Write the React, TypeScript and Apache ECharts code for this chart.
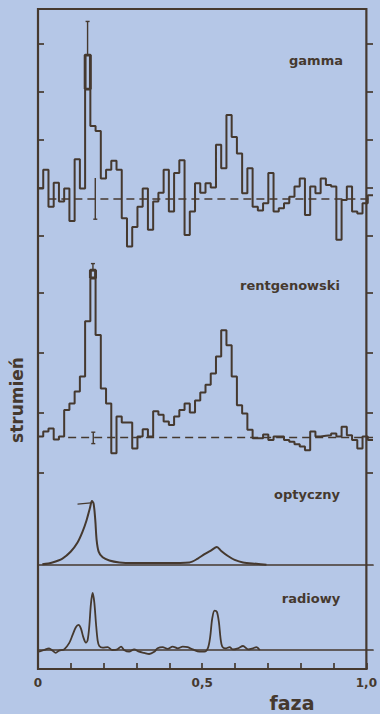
import React, { useEffect, useRef } from "react";
import * as echarts from "echarts";

const INK = "#45392f";
const BG = "#b5c7e7";
const FONT = "DejaVu Sans";

// Gamma-ray light curve: 64 phase bins (arbitrary flux units)
const gammaBins = [
  0.99, 1.38, 0.61, 1.11, 0.72, 0.99, 0.31, 1.6, 0.99, 3.77, 2.29, 2.19, 1.2, 1.38, 1.57, 1.38,
  0.37, -0.22, 0.19, 0.61, 0.99, 0.13, 0.72, 0.9, 1.38, 0.51, 1.31, 1.58, 0.02, 0.51, 1.1, 0.9,
  1.1, 1.01, 1.9, 1.41, 2.52, 2.06, 1.72, 0.89, 1.41, 0.61, 0.53, 0.68, 1.31, 0.51, 0.58, 0.68,
  0.82, 1.03, 1.2, 0.44, 1.03, 0.89, 1.2, 1.06, 1.03, -0.08, 0.75, 1.03, 0.51, 0.47, 0.68, 0.85,
];
const gammaStart = 0.53;
const gammaBaseline = 0.77;

// X-ray light curve: 64 phase bins
const xrayBins = [
  0.61, 0.69, 0.74, 0.56, 0.61, 1.05, 1.16, 1.36, 1.61, 2.53, 3.38, 2.3, 1.41, 1.16, 0.33, 0.94,
  0.84, 0.84, 0.41, 0.61, 0.73, 0.61, 1.03, 0.97, 0.86, 0.8, 0.94, 1.05, 1.16, 1.01, 1.21, 1.34,
  1.47, 1.66, 1.94, 2.38, 2.13, 1.61, 1.13, 0.99, 0.72, 0.58, 0.58, 0.64, 0.55, 0.61, 0.61, 0.55,
  0.52, 0.48, 0.44, 0.38, 0.69, 0.61, 0.62, 0.63, 0.66, 0.61, 0.77, 0.63, 0.55, 0.41, 0.61, 0.55,
];
const xrayBaseline = 0.59;

// Optical light curve [phase, flux]
const opticalCurve: [number, number][] = [
  [0.013, 0.01], [0.043, 0.04], [0.073, 0.1], [0.098, 0.21], [0.118, 0.35], [0.133, 0.52],
  [0.145, 0.7], [0.155, 0.89], [0.161, 1.0], [0.166, 0.96], [0.171, 0.7], [0.175, 0.39],
  [0.181, 0.21], [0.193, 0.12], [0.213, 0.07], [0.243, 0.04], [0.282, 0.03], [0.382, 0.03],
  [0.452, 0.04], [0.477, 0.1], [0.497, 0.17], [0.517, 0.23], [0.534, 0.28], [0.547, 0.22],
  [0.567, 0.14], [0.587, 0.08], [0.612, 0.04], [0.652, 0.02], [0.682, 0.005],
];
const opticalFlag: [number, number][] = [[0.118, 0.95], [0.158, 0.97]];

// Radio light curve [phase, flux]
const radioCurve: [number, number][] = [
  [0.003, -0.03], [0.018, 0], [0.033, 0.03], [0.043, -0.01], [0.053, -0.05], [0.063, -0.01],
  [0.078, 0.01], [0.093, 0.12], [0.103, 0.26], [0.113, 0.4], [0.121, 0.44], [0.128, 0.38],
  [0.135, 0.23], [0.143, 0.13], [0.148, 0.17], [0.153, 0.41], [0.158, 0.81], [0.163, 1.0],
  [0.168, 0.84], [0.173, 0.47], [0.178, 0.17], [0.183, 0.07], [0.193, 0.04], [0.208, 0.05],
  [0.222, 0], [0.237, 0.01], [0.248, 0.06], [0.257, 0], [0.272, -0.03], [0.287, 0.01],
  [0.302, -0.03], [0.317, -0.05], [0.332, -0.07], [0.347, -0.03], [0.357, 0.03], [0.372, 0.05],
  [0.387, 0.02], [0.402, 0.06], [0.417, 0.03], [0.432, 0.06], [0.447, 0.05], [0.462, 0.01],
  [0.482, -0.03], [0.497, -0.03], [0.507, 0.03], [0.514, 0.23], [0.52, 0.55], [0.527, 0.69],
  [0.534, 0.67], [0.54, 0.49], [0.545, 0.2], [0.55, 0.06], [0.56, 0.03], [0.572, 0.05],
  [0.582, 0.01], [0.597, 0.03], [0.612, 0.07], [0.627, 0.01], [0.642, 0.03], [0.652, 0.05],
  [0.662, 0],
];

// Error bars [phase, low, high] and bold peak boxes [x0, x1, low, high]
const gammaPeakBox = [9 / 64, 10 / 64, 3.06, 3.77];
const gammaPeakErr = [0.148, 3.77, 4.47];
const gammaBaseErr = [0.171, 0.35, 1.21];
const xrayPeakBox = [10 / 64, 11 / 64, 3.25, 3.38];
const xrayPeakErr = [0.164, 3.38, 3.49];
const xrayBaseErr = [0.165, 0.49, 0.68];

const panelLabels = [
  { text: "gamma", x: 316, y: 60 },
  { text: "rentgenowski", x: 290, y: 285 },
  { text: "optyczny", x: 307, y: 494 },
  { text: "radiowy", x: 311, y: 598 },
];

function hist(bins: number[], start?: number) {
  const n = bins.length;
  const d: number[][] = bins.map((v, i) => [i / n, v]);
  d.push([1, bins[n - 1]]);
  if (start !== undefined) d.unshift([0, start]);
  return d;
}

function seg(data: number[][], axis: number, yAxis: number, width = 1.6, extra: any = {}) {
  return {
    type: "line",
    xAxisIndex: axis,
    yAxisIndex: yAxis,
    data,
    symbol: "none",
    silent: true,
    clip: false,
    lineStyle: { color: INK, width, ...(extra.lineStyle || {}) },
    ...(extra.series || {}),
  };
}

function errBar(e: number[], axis: number, yAxis: number, capTop: boolean, capBottom: boolean) {
  const [x, lo, hi] = e;
  const out: any[] = [seg([[x, lo], [x, hi]], axis, yAxis, 1.4)];
  if (capTop) out.push(seg([[x - 0.006, hi], [x + 0.006, hi]], axis, yAxis, 1.4));
  if (capBottom) out.push(seg([[x - 0.006, lo], [x + 0.006, lo]], axis, yAxis, 1.4));
  return out;
}

function box(b: number[], axis: number, yAxis: number) {
  const [x0, x1, lo, hi] = b;
  return seg([[x0, lo], [x0, hi], [x1, hi], [x1, lo], [x0, lo]], axis, yAxis, 2.8);
}

export default function App() {
  const ref = useRef<HTMLDivElement>(null);
  useEffect(() => {
    if (!ref.current) return;
    const chart = echarts.init(ref.current, undefined, { renderer: "svg" });
    const L = 38, R = 7;
    const hiddenX = (g: number, line = false) => ({
      type: "value", gridIndex: g, min: 0, max: 1,
      axisLine: { show: line, onZero: true, lineStyle: { color: INK, width: 1.7 } },
      axisTick: { show: false }, axisLabel: { show: false }, splitLine: { show: false },
    });
    const tickY = (g: number, pos: "left" | "right", max: number) => ({
      type: "value", gridIndex: g, position: pos, min: 0, max, interval: 1,
      axisLine: { show: false },
      axisTick: { show: true, inside: true, length: 6, lineStyle: { color: INK, width: 1.7 } },
      axisLabel: { show: false }, splitLine: { show: false },
    });
    const plainY = (g: number) => ({
      type: "value", gridIndex: g, min: 0, max: 1, show: false, splitLine: { show: false },
    });
    const option: any = {
      animation: false,
      backgroundColor: BG,
      grid: [
        { left: L, right: R, top: 9, bottom: 45, show: true, borderColor: INK, borderWidth: 2.2, backgroundColor: "transparent" },
        { left: L, right: R, top: 44, height: 192 },
        { left: L, right: R, top: 293, height: 180 },
        { left: L, right: R, top: 501, height: 64 },
        { left: L, right: R, top: 593, height: 57 },
      ],
      xAxis: [
        {
          type: "value", gridIndex: 0, min: 0, max: 1, interval: 0.1,
          axisLine: { show: true, lineStyle: { color: INK, width: 2.2 } },
          axisTick: { show: true, inside: true, length: 6, lineStyle: { color: INK, width: 1.7 } },
          splitLine: { show: false },
          axisLabel: {
            color: INK, fontFamily: FONT, fontWeight: "bold", fontSize: 12, margin: 8,
            formatter: (v: number) =>
              Math.abs(v) < 1e-6 ? "0" : Math.abs(v - 0.5) < 1e-6 ? "0,5" : Math.abs(v - 1) < 1e-6 ? "1,0" : "",
          },
        },
        hiddenX(1),
        hiddenX(2),
        hiddenX(3, true),
        hiddenX(4, true),
      ],
      yAxis: [
        { type: "value", gridIndex: 0, show: false, min: 0, max: 1, splitLine: { show: false } },
        tickY(1, "left", 4),
        tickY(1, "right", 4),
        tickY(2, "left", 3),
        tickY(2, "right", 3),
        plainY(3),
        plainY(4),
      ],
      series: [
        seg(hist(gammaBins, gammaStart), 1, 1, 2, { series: { step: "end" } }),
        seg([[0.031, gammaBaseline], [1, gammaBaseline]], 1, 1, 1.5, { lineStyle: { type: [8, 5] } }),
        box(gammaPeakBox, 1, 1),
        ...errBar(gammaPeakErr, 1, 1, true, false),
        ...errBar(gammaBaseErr, 1, 1, false, true),

        seg(hist(xrayBins), 2, 3, 2, { series: { step: "end" } }),
        seg([[0.09, xrayBaseline], [1, xrayBaseline]], 2, 3, 1.5, { lineStyle: { type: [8, 5] } }),
        box(xrayPeakBox, 2, 3),
        ...errBar(xrayPeakErr, 2, 3, true, false),
        ...errBar(xrayBaseErr, 2, 3, true, true),

        seg(opticalCurve, 3, 5, 2, { series: { smooth: 0.3 } }),
        seg(opticalFlag, 3, 5, 1.2),

        seg(radioCurve, 4, 6, 1.8, { series: { smooth: 0.3 } }),
      ],
      graphic: [
        ...panelLabels.map((p) => ({
          type: "text", x: p.x, y: p.y,
          style: { text: p.text, fill: INK, font: `bold 13px "${FONT}"`, textAlign: "center", textVerticalAlign: "middle" },
        })),
        {
          type: "text", x: 292, y: 703,
          style: { text: "faza", fill: INK, font: `bold 19px "${FONT}"`, textAlign: "center", textVerticalAlign: "middle" },
        },
        {
          type: "text", x: 17, y: 400, rotation: Math.PI / 2,
          style: { text: "strumień", fill: INK, font: `bold 17px "${FONT}"`, textAlign: "center", textVerticalAlign: "middle" },
        },
      ],
    };
    chart.setOption(option);
    return () => chart.dispose();
  }, []);
  return (
    <div
      ref={ref}
      style={{ position: "fixed", left: 0, top: 0, width: 380, height: 714, background: BG }}
    />
  );
}
